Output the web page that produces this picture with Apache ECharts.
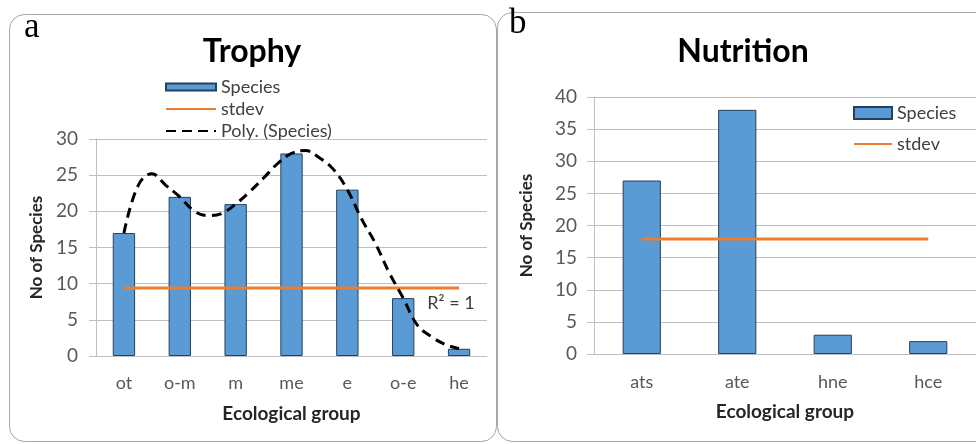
<!DOCTYPE html>
<html>
<head>
<meta charset="utf-8">
<script src="https://cdn.jsdelivr.net/npm/echarts@6/dist/echarts.min.js"></script>
<style>html,body{margin:0;padding:0;background:#fff;}#c{width:976px;height:444px;}</style>
</head>
<body>
<div id="c"></div>
<script>
// ---- data ----
const trophyCats = ['ot', 'o-m', 'm', 'me', 'e', 'o-e', 'he'];
const trophySpecies = [17, 22, 21, 28, 23, 8, 1];
const trophyStdev = [9.4, 9.4, 9.4, 9.4, 9.4, 9.4, 9.4];
// polynomial trendline at quarter-category steps
const polyX = [0, 0.25, 0.5, 0.75, 1, 1.25, 1.5, 1.75, 2, 2.25, 2.5, 2.75, 3, 3.25, 3.5, 3.75, 4, 4.25, 4.5, 4.75, 5, 5.25, 5.5, 5.75, 6];
const polyY = [17, 23.5, 25.2, 23.6, 22, 20.1, 19.4, 19.7, 21, 22.7, 24.6, 26.6, 28, 28.4, 27.4, 25.8, 23, 19, 15.6, 11.5, 8, 4.3, 2.7, 1.6, 1];
const nutritionCats = ['ats', 'ate', 'hne', 'hce'];
const nutritionSpecies = [27, 38, 3, 2];
const nutritionStdev = [17.9, 17.9, 17.9, 17.9];
const trophyYMax = 30;
const nutritionYMax = 40;
const yStep = 5;

const FONT = 'Lato';
const BAR = '#5b9bd5';
const BAR_BORDER = '#24405f';
const ORANGE = '#ed7d31';
const GRIDC = '#bfbfbf';
const LABELC = '#595959';

const chart = echarts.init(document.getElementById('c'), null, {renderer: 'canvas'});

function catAxis(gridIndex, data, margin) {
  return {
    type: 'category', gridIndex, data,
    axisLine: {show: true, onZero: false, lineStyle: {color: GRIDC, width: 1}},
    axisTick: {show: false},
    axisLabel: {color: LABELC, fontFamily: FONT, fontSize: 18, margin},
    name: 'Ecological group', nameLocation: 'middle', nameGap: 48,
    nameTextStyle: {fontFamily: FONT, fontWeight: 'bold', fontSize: 19, color: '#262626'}
  };
}
function valAxis(gridIndex, max, margin, nameGap) {
  return {
    type: 'value', gridIndex, min: 0, max, interval: yStep,
    axisLine: {show: true, onZero: false, lineStyle: {color: GRIDC, width: 1}},
    axisTick: {show: true, length: 7, lineStyle: {color: GRIDC}},
    splitLine: {show: true, lineStyle: {color: GRIDC, width: 1}},
    axisLabel: {color: LABELC, fontFamily: FONT, fontSize: 19, margin},
    name: 'No of Species', nameLocation: 'middle', nameGap,
    nameTextStyle: {fontFamily: FONT, fontWeight: 'bold', fontSize: 17, color: '#262626'}
  };
}
const hiddenDot = {opacity: 0, borderWidth: 0};

const option = {
  animation: false,
  backgroundColor: '#ffffff',
  grid: [
    {left: 96, top: 139, width: 391, height: 217},
    {left: 594, top: 97, width: 387, height: 257}
  ],
  xAxis: [
    catAxis(0, trophyCats, 18),
    {type: 'value', gridIndex: 0, min: -0.5, max: 6.5, show: false, splitLine: {show: false}},
    catAxis(1, nutritionCats, 19)
  ],
  yAxis: [
    valAxis(0, trophyYMax, 18, 51),
    valAxis(1, nutritionYMax, 17, 59)
  ],
  legend: [
    {
      orient: 'vertical', left: 165, top: 78, padding: 0, itemWidth: 50, itemHeight: 7, itemGap: 4,
      textStyle: {fontFamily: FONT, fontSize: 18, color: '#404040'},
      data: [{name: 'Species', icon: 'rect'}, {name: 'stdev', itemStyle: hiddenDot}, {name: 'Poly. (Species)', itemStyle: hiddenDot}]
    },
    {
      orient: 'vertical', left: 853, top: 104, padding: 0, itemWidth: 38, itemHeight: 12, itemGap: 13,
      textStyle: {fontFamily: FONT, fontSize: 18, color: '#404040'},
      data: [{name: 'Species', icon: 'rect'}, {name: 'stdev', itemStyle: hiddenDot}]
    }
  ],
  series: [
    {
      name: 'Species', type: 'bar', xAxisIndex: 0, yAxisIndex: 0, data: trophySpecies,
      barWidth: '40%', itemStyle: {color: BAR, borderColor: BAR_BORDER, borderWidth: 1}
    },
    {
      name: 'stdev', type: 'line', xAxisIndex: 0, yAxisIndex: 0, data: trophyStdev,
      symbol: 'none', lineStyle: {color: ORANGE, width: 3}, itemStyle: {color: ORANGE}
    },
    {
      name: 'Poly. (Species)', type: 'line', xAxisIndex: 1, yAxisIndex: 0,
      data: polyX.map((x, i) => [x, polyY[i]]), smooth: 0.4,
      symbol: 'none', lineStyle: {color: '#000', width: 3, type: [10, 6]}, itemStyle: {color: '#000'}, z: 5
    },
    {
      name: 'Species', type: 'bar', xAxisIndex: 2, yAxisIndex: 1, data: nutritionSpecies,
      barWidth: '40%', itemStyle: {color: BAR, borderColor: BAR_BORDER, borderWidth: 1}
    },
    {
      name: 'stdev', type: 'line', xAxisIndex: 2, yAxisIndex: 1, data: nutritionStdev,
      symbol: 'none', lineStyle: {color: ORANGE, width: 3}, itemStyle: {color: ORANGE}
    }
  ],
  graphic: [
    {type: 'rect', shape: {x: 9.5, y: 14.5, width: 487, height: 427, r: 15}, style: {fill: 'none', stroke: '#a6a6a6', lineWidth: 1}, z: -1},
    {type: 'rect', shape: {x: 497.5, y: 12.5, width: 500, height: 429, r: 15}, style: {fill: 'none', stroke: '#a6a6a6', lineWidth: 1}, z: -1},
    {type: 'text', left: 24, top: 10, style: {text: 'a', font: '35px "Liberation Serif"', fill: '#000'}},
    {type: 'text', left: 509, top: 6, style: {text: 'b', font: '35px "Liberation Serif"', fill: '#000'}},
    {type: 'text', x: 252, y: 52, style: {text: 'Trophy', font: 'bold 32px Lato', fill: '#000', align: 'center', verticalAlign: 'middle'}},
    {type: 'text', x: 743, y: 52, style: {text: 'Nutrition', font: 'bold 32px Lato', fill: '#000', align: 'center', verticalAlign: 'middle'}},
    {type: 'text', x: 451, y: 303, style: {text: 'R² = 1', font: '18px Lato', fill: '#404040', align: 'center', verticalAlign: 'middle'}}
  ]
};
chart.setOption(option);
</script>
</body>
</html>
